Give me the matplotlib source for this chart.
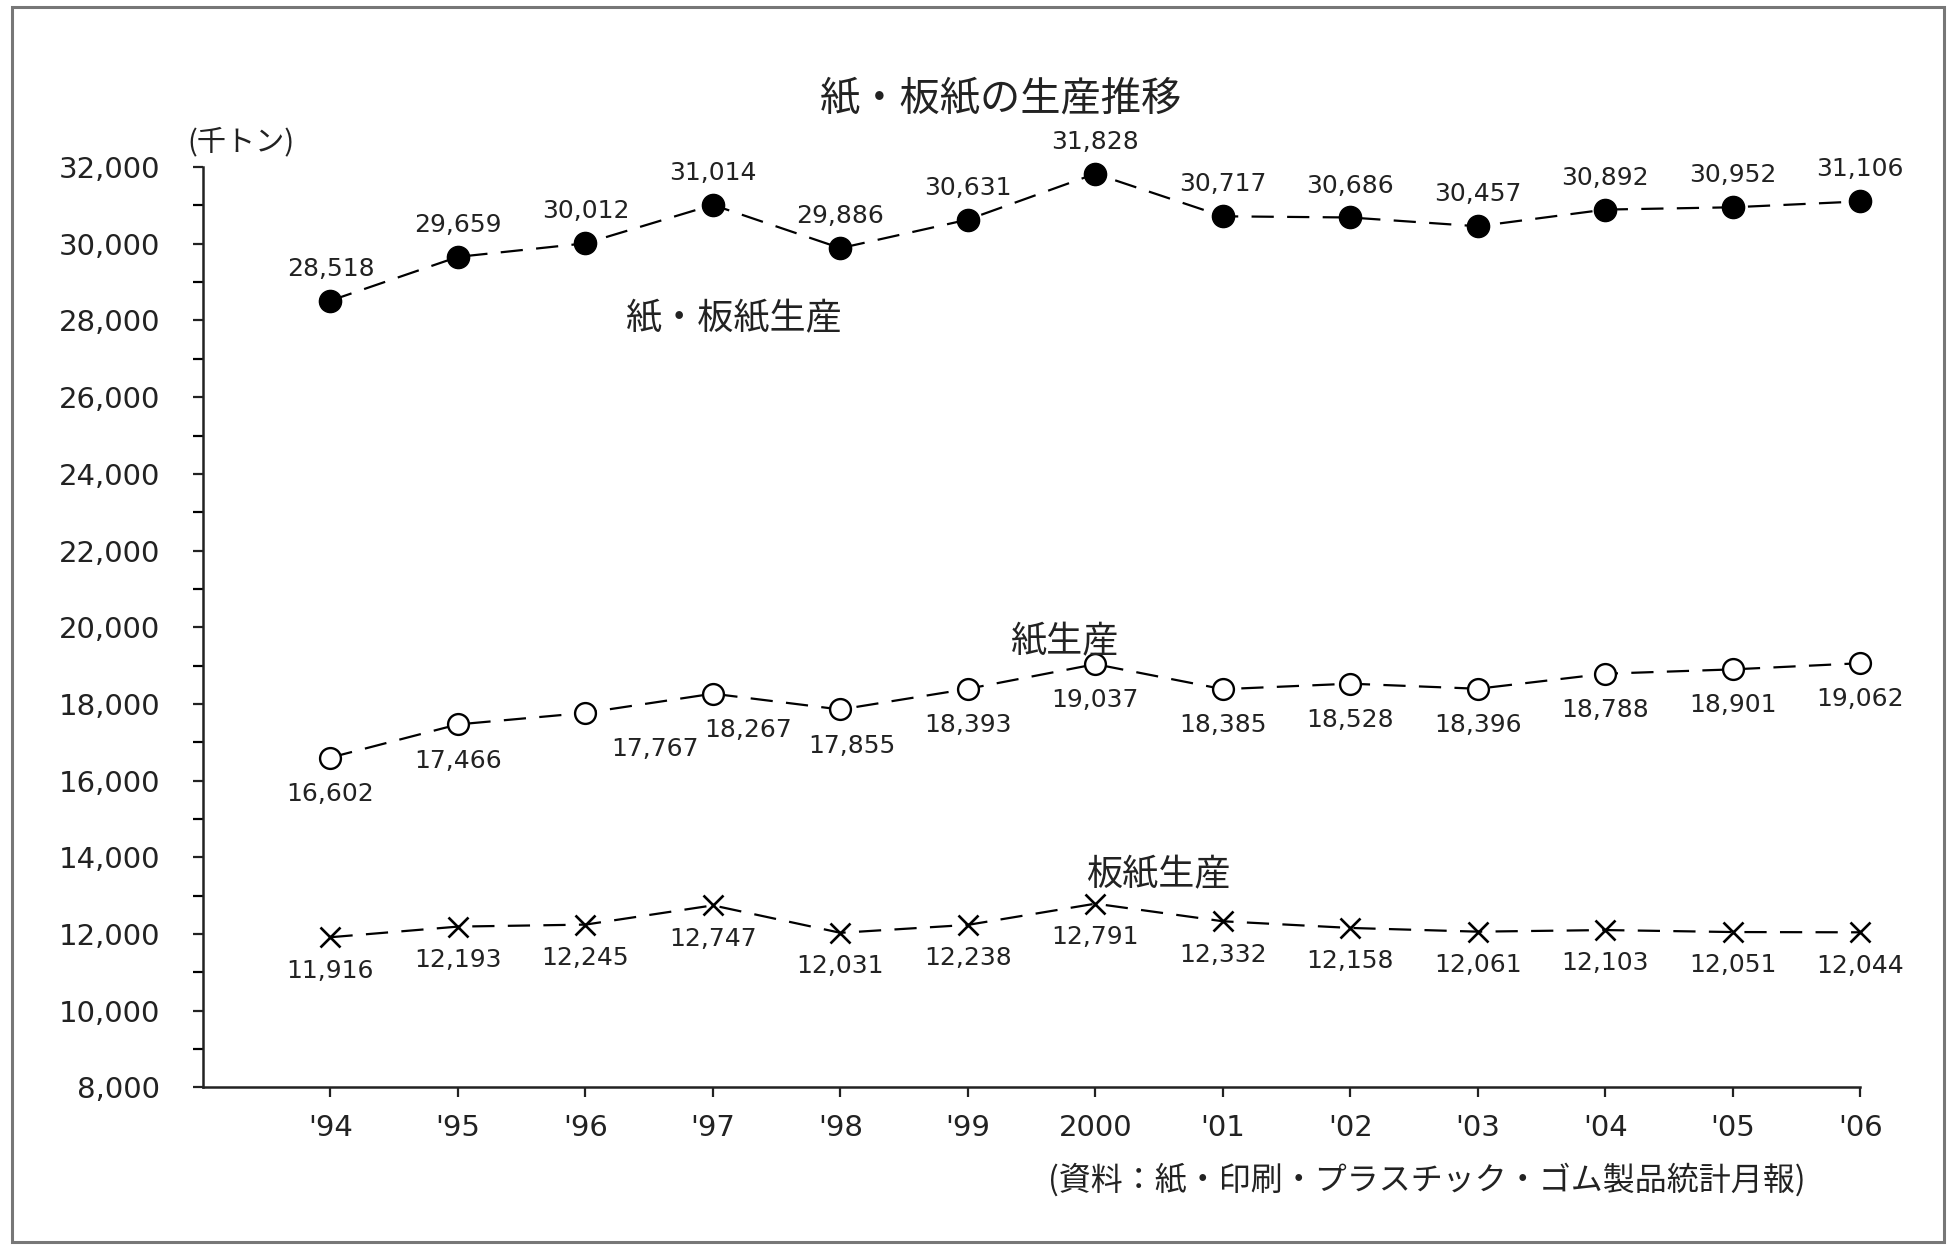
import matplotlib
matplotlib.use("Agg")
import matplotlib.pyplot as plt
from matplotlib.ticker import MultipleLocator, FuncFormatter
from matplotlib.patches import Rectangle

plt.rcParams['font.family'] = ['DejaVu Sans', 'Noto Sans CJK JP']
JP = ['Noto Sans CJK JP', 'DejaVu Sans']

# data (千トン)
years = ["'94", "'95", "'96", "'97", "'98", "'99", "2000",
         "'01", "'02", "'03", "'04", "'05", "'06"]
total = [28518, 29659, 30012, 31014, 29886, 30631, 31828,
         30717, 30686, 30457, 30892, 30952, 31106]
paper = [16602, 17466, 17767, 18267, 17855, 18393, 19037,
         18385, 18528, 18396, 18788, 18901, 19062]
board = [11916, 12193, 12245, 12747, 12031, 12238, 12791,
         12332, 12158, 12061, 12103, 12051, 12044]

# label offsets in points (dx) - a few labels sit off to the side
paper_dx = [0, 0, 50, 25, 8, 0, 0, 0, 0, 0, 0, 0, 0]

fig = plt.figure(figsize=(19.52, 12.47), dpi=100)
ax = fig.add_axes([0.104, 0.128, 0.849, 0.738])

x = list(range(1, len(years) + 1))
dash = (0, (10, 6))
ax.plot(x, total, color='black', lw=1.6, ls=dash, marker='o', ms=16,
        mfc='black', mec='black', zorder=3, clip_on=False)
ax.plot(x, paper, color='black', lw=1.6, ls=dash, marker='o', ms=15,
        mfc='white', mec='black', mew=1.7, zorder=3, clip_on=False)
ax.plot(x, board, color='black', lw=1.6, ls=dash, marker='x', ms=14,
        mec='black', mew=1.9, zorder=3, clip_on=False)

fmt = lambda v: f"{v:,}"
for i, v in enumerate(total):
    ax.annotate(fmt(v), (x[i], v), xytext=(0, 23), textcoords='offset points',
                ha='center', va='center', fontsize=18, color='#222222')
for i, v in enumerate(paper):
    ax.annotate(fmt(v), (x[i], v), xytext=(paper_dx[i], -26),
                textcoords='offset points', ha='center', va='center',
                fontsize=18, color='#222222')
for i, v in enumerate(board):
    ax.annotate(fmt(v), (x[i], v), xytext=(0, -24), textcoords='offset points',
                ha='center', va='center', fontsize=18, color='#222222')

ax.set_xlim(0, 13)
ax.set_ylim(8000, 32000)
ax.set_xticks(x)
ax.set_xticklabels(years)
ax.yaxis.set_major_locator(MultipleLocator(2000))
ax.yaxis.set_minor_locator(MultipleLocator(1000))
ax.yaxis.set_major_formatter(FuncFormatter(lambda v, p: f"{int(v):,}"))
ax.tick_params(axis='both', labelsize=21, colors='#222222', width=1.6, length=7)
ax.tick_params(axis='y', which='minor', width=1.6, length=7)
ax.tick_params(axis='x', pad=12)
ax.tick_params(axis='y', pad=24)
for s in ['top', 'right']:
    ax.spines[s].set_visible(False)
for s in ['left', 'bottom']:
    ax.spines[s].set_linewidth(1.8)
    ax.spines[s].set_color('#222222')

# texts
fig.text(0.513, 0.92, '紙・板紙の生産推移', family=JP, fontsize=29,
         ha='center', va='center', color='#222222')
fig.text(0.096, 0.886, '(千トン)', family=JP, fontsize=21,
         ha='left', va='center', color='#222222')
ax.text(4.17, 28030, '紙・板紙生産', family=JP, fontsize=26,
        ha='center', va='center', color='#222222')
ax.text(6.76, 19620, '紙生産', family=JP, fontsize=26,
        ha='center', va='center', color='#222222')
ax.text(7.49, 13520, '板紙生産', family=JP, fontsize=26,
        ha='center', va='center', color='#222222')
fig.text(0.925, 0.054, '(資料：紙・印刷・プラスチック・ゴム製品統計月報)',
         family=JP, fontsize=23, ha='right', va='center', color='#222222')

# outer frame
fig.patches.append(Rectangle((0.006, 0.004), 0.99, 0.99, transform=fig.transFigure,
                             fill=False, edgecolor='#777777', lw=2.2))

fig.savefig('out.png', dpi=100)
